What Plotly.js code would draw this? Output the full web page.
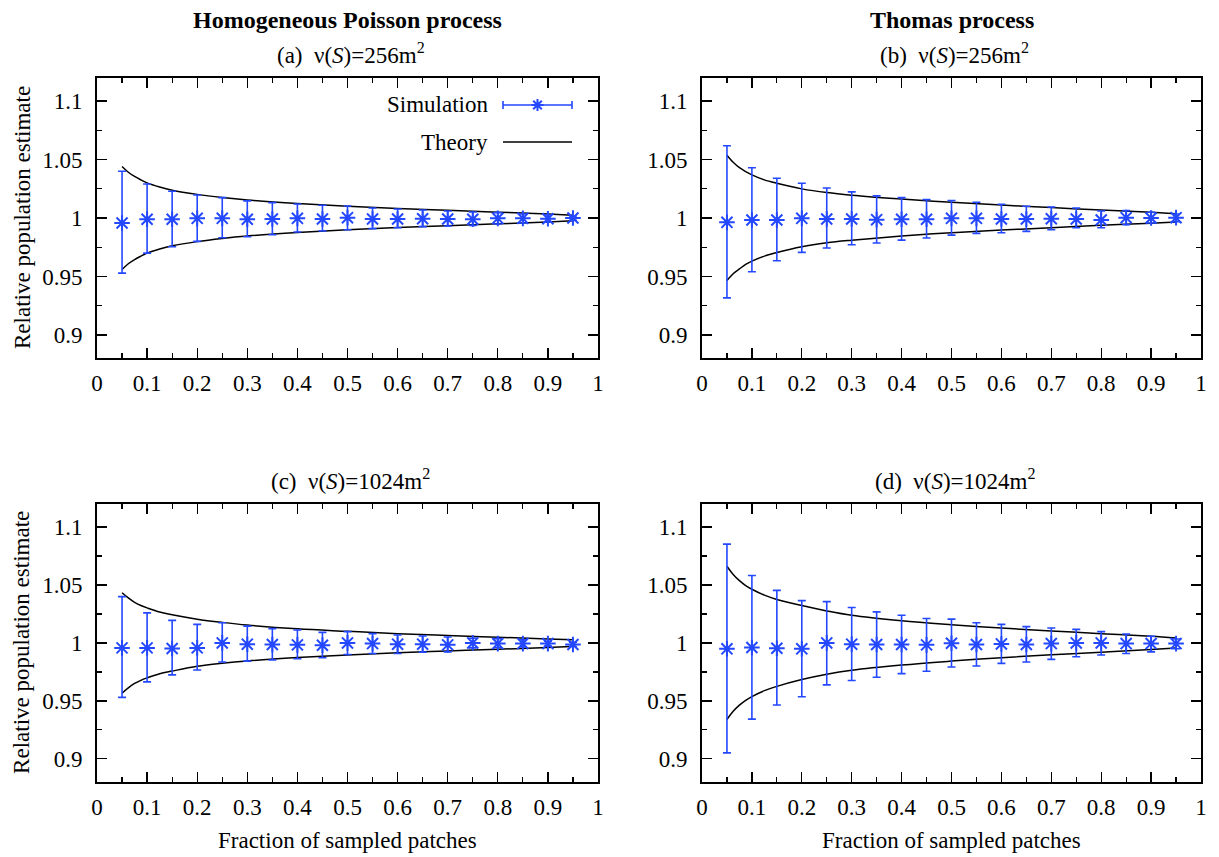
<!DOCTYPE html>
<html>
<head>
<meta charset="utf-8">
<script src="https://cdn.plot.ly/plotly-3.0.1.min.js"></script>
<style>html,body{margin:0;padding:0;background:#fff;}#plot{width:1219px;height:857px;}</style>
</head>
<body>
<div id="plot"></div>
<script>
// ---------- data ----------
const fraction = [0.05,0.1,0.15,0.2,0.25,0.3,0.35,0.4,0.45,0.5,0.55,0.6,0.65,0.7,0.75,0.8,0.85,0.9,0.95];

// (a) Homogeneous Poisson, 256 m2
const simA    = [0.9957,0.9989,0.9989,0.9997,0.9997,0.9989,0.9991,0.9997,0.9991,1.0003,0.9991,0.9991,0.9994,0.9991,0.9989,0.9997,0.9997,0.9994,1.0000];
const simAHi  = [1.0400,1.0291,1.0229,1.0197,1.0174,1.0146,1.0131,1.0120,1.0109,1.0103,1.0086,1.0077,1.0069,1.0060,1.0051,1.0046,1.0034,1.0026,1.0017];
const simALo  = [0.9529,0.9700,0.9754,0.9800,0.9831,0.9840,0.9857,0.9880,0.9889,0.9900,0.9909,0.9917,0.9926,0.9931,0.9937,0.9949,0.9957,0.9966,0.9980];

// (b) Thomas, 256 m2
const simB    = [0.9963,0.9983,0.9983,0.9997,0.9991,0.9991,0.9986,0.9989,0.9989,0.9997,0.9997,0.9991,0.9991,0.9994,0.9991,0.9983,1.0003,1.0000,1.0003];
const simBHi  = [1.0617,1.0429,1.0340,1.0297,1.0257,1.0223,1.0189,1.0174,1.0157,1.0149,1.0134,1.0117,1.0100,1.0094,1.0086,1.0060,1.0063,1.0049,1.0034];
const simBLo  = [0.9317,0.9540,0.9634,0.9706,0.9743,0.9771,0.9786,0.9811,0.9829,0.9854,0.9869,0.9874,0.9886,0.9900,0.9917,0.9917,0.9943,0.9957,0.9969];

// (c) Homogeneous Poisson, 1024 m2
const simC    = [0.9957,0.9957,0.9952,0.9957,1.0000,0.9989,0.9986,0.9983,0.9980,1.0000,0.9994,0.9989,0.9989,0.9983,1.0000,0.9994,0.9994,0.9994,0.9986];
const simCHi  = [1.0399,1.0259,1.0194,1.0160,1.0174,1.0145,1.0123,1.0111,1.0091,1.0097,1.0080,1.0068,1.0060,1.0051,1.0040,1.0037,1.0026,1.0014,1.0006];
const simCLo  = [0.9530,0.9664,0.9724,0.9766,0.9835,0.9843,0.9852,0.9863,0.9872,0.9900,0.9909,0.9909,0.9920,0.9923,0.9957,0.9960,0.9966,0.9972,0.9969];

// (d) Thomas, 1024 m2
const simD    = [0.9949,0.9960,0.9954,0.9949,1.0000,0.9989,0.9986,0.9986,0.9983,0.9997,0.9986,0.9991,0.9986,0.9994,1.0000,1.0000,0.9994,0.9994,0.9994];
const simDHi  = [1.0852,1.0581,1.0453,1.0365,1.0356,1.0305,1.0268,1.0239,1.0211,1.0205,1.0174,1.0160,1.0140,1.0128,1.0117,1.0097,1.0077,1.0057,1.0034];
const simDLo  = [0.9051,0.9342,0.9464,0.9536,0.9638,0.9675,0.9704,0.9735,0.9755,0.9792,0.9801,0.9823,0.9835,0.9858,0.9880,0.9895,0.9909,0.9923,0.9949];

// theory envelopes
const theoryX  = [0.05,0.0625,0.075,0.0875,0.1,0.125,0.15,0.2,0.25,0.3,0.4,0.5,0.6,0.7,0.8,0.9,0.95];
const thAUp = [1.0440,1.0391,1.0355,1.0326,1.0300,1.0265,1.0238,1.0202,1.0175,1.0154,1.0124,1.0101,1.0082,1.0066,1.0050,1.0034,1.0024];
const thALo = [0.9560,0.9609,0.9645,0.9674,0.9700,0.9735,0.9762,0.9798,0.9825,0.9846,0.9876,0.9899,0.9918,0.9934,0.9950,0.9966,0.9976];
const thBUp = [1.0537,1.0476,1.0430,1.0397,1.0369,1.0326,1.0297,1.0249,1.0217,1.0195,1.0162,1.0134,1.0111,1.0089,1.0069,1.0049,1.0037];
const thBLo = [0.9466,0.9524,0.9565,0.9603,0.9631,0.9674,0.9705,0.9755,0.9788,0.9810,0.9846,0.9874,0.9897,0.9917,0.9937,0.9956,0.9966];
const thCUp = [1.0433,1.0388,1.0350,1.0323,1.0302,1.0266,1.0243,1.0205,1.0177,1.0154,1.0121,1.0100,1.0080,1.0064,1.0049,1.0034,1.0027];
const thCLo = [0.9567,0.9612,0.9650,0.9677,0.9698,0.9734,0.9757,0.9798,0.9824,0.9844,0.9873,0.9896,0.9915,0.9930,0.9945,0.9961,0.9972];
const thDUp = [1.0661,1.0590,1.0537,1.0495,1.0463,1.0412,1.0375,1.0322,1.0276,1.0238,1.0191,1.0157,1.0128,1.0103,1.0080,1.0057,1.0042];
const thDLo = [0.9339,0.9410,0.9463,0.9505,0.9537,0.9588,0.9625,0.9684,0.9730,0.9764,0.9809,0.9843,0.9872,0.9897,0.9920,0.9943,0.9956];

const xTickVals = [0,0.1,0.2,0.3,0.4,0.5,0.6,0.7,0.8,0.9,1];
const xTickText = ['0','0.1','0.2','0.3','0.4','0.5','0.6','0.7','0.8','0.9','1'];
const yTickVals = [0.9,0.95,1,1.05,1.1];
const yTickText = ['0.9','0.95','1','1.05','1.1'];

const colTitles = ['Homogeneous Poisson process','Thomas process'];
const panelTitles = ['(a)\u00a0\u00a0\u03bd(<i>S</i>)=256m<sup>2</sup>','(b)\u00a0\u00a0\u03bd(<i>S</i>)=256m<sup>2</sup>',
                     '(c)\u00a0\u00a0\u03bd(<i>S</i>)=1024m<sup>2</sup>','(d)\u00a0\u00a0\u03bd(<i>S</i>)=1024m<sup>2</sup>'];
const xTitle = 'Fraction of sampled patches';
const yTitle = 'Relative population estimate';
const legendNames = ['Simulation','Theory'];

// ---------- styling ----------
const W = 1219, H = 857;
const BLUE = '#2348ff';
const FONT = 'Liberation Serif';
const px = v => v / W;
const py = v => 1 - v / H;

const colDom = [[px(97), px(598)], [px(702), px(1201)]];
const rowDom = [[py(358.4), py(77.6)], [py(782), py(503.8)]];

const panels = [
  {sim: simA, hi: simAHi, lo: simALo, up: thAUp, dn: thALo, col: 0, row: 0},
  {sim: simB, hi: simBHi, lo: simBLo, up: thBUp, dn: thBLo, col: 1, row: 0},
  {sim: simC, hi: simCHi, lo: simCLo, up: thCUp, dn: thCLo, col: 0, row: 1},
  {sim: simD, hi: simDHi, lo: simDLo, up: thDUp, dn: thDLo, col: 1, row: 1}
];

const traces = [];
const layout = {
  width: W, height: H,
  margin: {l: 0, r: 0, t: 0, b: 0},
  paper_bgcolor: '#fff', plot_bgcolor: '#fff',
  showlegend: false,
  font: {family: FONT, size: 23, color: '#000'},
  annotations: [], shapes: []
};

function axisCommon() {
  return {
    showline: true, linewidth: 2, linecolor: '#000', mirror: 'allticks',
    ticks: 'inside', ticklen: 10, tickwidth: 1.3, tickcolor: '#000',
    showgrid: false, zeroline: false, fixedrange: true,
    tickfont: {family: FONT, size: 23, color: '#000'}
  };
}

panels.forEach((p, i) => {
  const n = i === 0 ? '' : String(i + 1);
  const xa = 'x' + n, ya = 'y' + n;
  // theory
  [p.up, p.dn].forEach(arr => traces.push({
    x: theoryX, y: arr, xaxis: xa, yaxis: ya, type: 'scatter', mode: 'lines',
    line: {color: '#000', width: 1.5, shape: 'spline', smoothing: 1}, hoverinfo: 'skip'
  }));
  // simulation
  traces.push({
    x: fraction, y: p.sim, xaxis: xa, yaxis: ya, type: 'scatter', mode: 'markers',
    marker: {symbol: 'asterisk-open', size: 13, color: BLUE, line: {color: BLUE, width: 2}},
    error_y: {type: 'data', symmetric: false,
      array: p.hi.map((h, k) => h - p.sim[k]),
      arrayminus: p.lo.map((l, k) => p.sim[k] - l),
      color: BLUE, thickness: 1.6, width: 4}
  });
  layout['xaxis' + n] = Object.assign(axisCommon(), {
    domain: colDom[p.col], anchor: ya, range: [0, 1],
    tickvals: xTickVals, ticktext: xTickText, ticklabelstandoff: 3,
    minor: {tickvals: fraction, ticklen: 5, tickwidth: 1.3, tickcolor: '#000', ticks: 'inside', showgrid: false}
  });
  layout['yaxis' + n] = Object.assign(axisCommon(), {
    domain: rowDom[p.row], anchor: xa, range: [0.88, 1.12],
    tickvals: yTickVals, ticktext: yTickText, ticklabelstandoff: 8,
    minor: {dtick: 0.025, tick0: 0.875, ticklen: 5, tickwidth: 1.3, tickcolor: '#000', ticks: 'inside', showgrid: false}
  });

  const cx = (colDom[p.col][0] + colDom[p.col][1]) / 2;
  const topPx = p.row === 0 ? 77.6 : 503.8;
  const botPx = p.row === 0 ? 358.4 : 782;
  layout.annotations.push({
    text: panelTitles[i], xref: 'paper', yref: 'paper', x: cx + px(3), y: py(topPx - 8),
    xanchor: 'center', yanchor: 'bottom', showarrow: false, font: {family: FONT, size: 23}
  });
  if (p.col === 0) {
    layout.annotations.push({
      text: yTitle, xref: 'paper', yref: 'paper', x: px(22), y: py((topPx + botPx) / 2),
      xanchor: 'center', yanchor: 'middle', textangle: -90, showarrow: false, font: {family: FONT, size: 23}
    });
  }
  if (p.row === 1) {
    layout.annotations.push({
      text: xTitle, xref: 'paper', yref: 'paper', x: cx, y: py(840),
      xanchor: 'center', yanchor: 'middle', showarrow: false, font: {family: FONT, size: 23}
    });
  }
  if (p.row === 0) {
    layout.annotations.push({
      text: '<b>' + colTitles[p.col] + '</b>', xref: 'paper', yref: 'paper', x: cx, y: py(20),
      xanchor: 'center', yanchor: 'middle', showarrow: false, font: {family: FONT, size: 24}
    });
  }
});

// custom key in panel (a): text left, sample right
const keyX0 = 503, keyX1 = 572, keyRow = [105, 142];
layout.annotations.push({text: legendNames[0], xref: 'paper', yref: 'paper', x: px(490), y: py(keyRow[0]),
  xanchor: 'right', yanchor: 'middle', showarrow: false, font: {family: FONT, size: 23}});
layout.annotations.push({text: legendNames[1], xref: 'paper', yref: 'paper', x: px(490), y: py(keyRow[1]),
  xanchor: 'right', yanchor: 'middle', showarrow: false, font: {family: FONT, size: 23}});
const kc = (keyX0 + keyX1) / 2, ky = keyRow[0], r = 6, d = r * 0.72;
const seg = (a, b, c, e) => `M${px(a)},${py(b)} L${px(c)},${py(e)}`;
layout.shapes.push({type: 'path', xref: 'paper', yref: 'paper', line: {color: BLUE, width: 1.6},
  path: [seg(keyX0, ky, keyX1, ky), seg(keyX0, ky - 4, keyX0, ky + 4), seg(keyX1, ky - 4, keyX1, ky + 4)].join(' ')});
layout.shapes.push({type: 'path', xref: 'paper', yref: 'paper', line: {color: BLUE, width: 2},
  path: [seg(kc - r, ky, kc + r, ky), seg(kc, ky - r, kc, ky + r), seg(kc - d, ky - d, kc + d, ky + d), seg(kc - d, ky + d, kc + d, ky - d)].join(' ')});
layout.shapes.push({type: 'line', xref: 'paper', yref: 'paper', x0: px(keyX0), x1: px(keyX1), y0: py(keyRow[1]), y1: py(keyRow[1]),
  line: {color: '#000', width: 1.5}});

Plotly.newPlot('plot', traces, layout, {displayModeBar: false, staticPlot: true});
</script>
</body>
</html>
